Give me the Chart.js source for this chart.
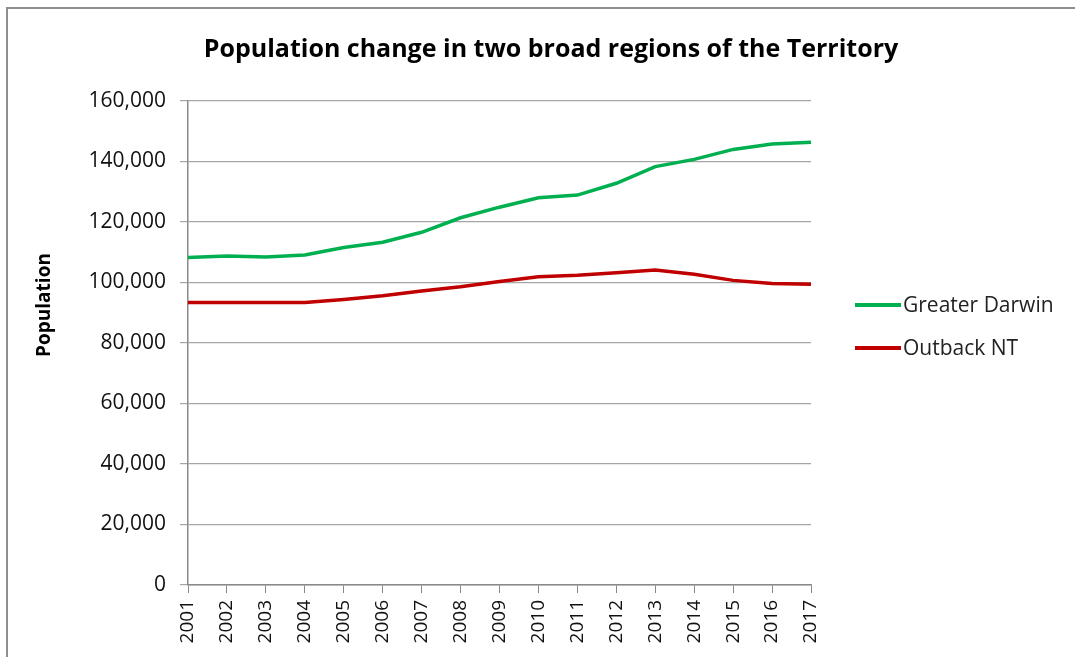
<!DOCTYPE html>
<html>
<head>
<meta charset="utf-8">
<script src="https://cdn.jsdelivr.net/npm/chart.js@4"></script>
<style>
    html, body { margin: 0; padding: 0; background: #fff; }
    #wrap { position: relative; width: 1075px; height: 657px; }
    #legend { position: absolute; left: 855px; top: 289px; font: 21px "Open Sans", sans-serif; color: #222; }
    .item { position: relative; height: 43px; }
    .swatch { position: absolute; left: 0; top: 14px; width: 46px; height: 4px; }
    .label { position: absolute; left: 48px; top: 0; white-space: nowrap; line-height: 30px; }
</style>
</head>
<body>
<div id="wrap">
    <canvas id="popChart" width="1075" height="657"></canvas>
    <div id="legend"></div>
</div>
<script>
const years = ['2001', '2002', '2003', '2004', '2005', '2006', '2007', '2008', '2009',
    '2010', '2011', '2012', '2013', '2014', '2015', '2016', '2017'];
const greaterDarwin = [108300, 108800, 108400, 109100, 111600, 113300, 116600, 121400, 124900,
    128000, 128900, 132800, 138300, 140700, 144000, 145800, 146400];
const outbackNT = [93400, 93400, 93400, 93400, 94400, 95600, 97200, 98600, 100300,
    101900, 102400, 103200, 104100, 102700, 100700, 99700, 99400];
const seriesNames = ['Greater Darwin', 'Outback NT'];
const seriesColors = ['#00b050', '#c00000'];

const fontFamily = '"Open Sans", sans-serif';

// white page with the grey frame of the chart box, plus the y axis caption
const framePlugin = {
    id: 'frame',
    beforeDraw(chart) {
        const c = chart.ctx;
        c.save();
        c.fillStyle = '#fff';
        c.fillRect(0, 0, chart.width, chart.height);
        c.strokeStyle = '#8e8e8e';
        c.lineWidth = 2;
        c.beginPath();
        c.moveTo(7, chart.height);
        c.lineTo(7, 8);
        c.lineTo(chart.width, 8);
        c.stroke();
        c.restore();
    },
    afterDraw(chart) {
        const c = chart.ctx;
        c.save();
        c.translate(45, 305);
        c.rotate(-Math.PI / 2);
        c.fillStyle = '#000';
        c.font = 'bold 19px ' + fontFamily;
        c.textAlign = 'center';
        c.textBaseline = 'middle';
        c.fillText('Population', 0, 0);
        c.restore();
    }
};

const ctx = document.getElementById('popChart').getContext('2d');
const popChart = new Chart(ctx, {
    type: 'line',
    data: {
        labels: years,
        datasets: [
            {
                label: seriesNames[0],
                data: greaterDarwin,
                borderColor: seriesColors[0],
                backgroundColor: seriesColors[0],
                borderWidth: 3.5,
                pointRadius: 0,
                tension: 0
            },
            {
                label: seriesNames[1],
                data: outbackNT,
                borderColor: seriesColors[1],
                backgroundColor: seriesColors[1],
                borderWidth: 3.5,
                pointRadius: 0,
                tension: 0
            }
        ]
    },
    options: {
        responsive: false,
        animation: false,
        devicePixelRatio: 1,
        layout: { padding: { left: 27, right: 0, top: 0, bottom: 0 } },
        plugins: {
            legend: { display: false },
            tooltip: { enabled: false },
            title: {
                display: true,
                text: 'Population change in two broad regions of the Territory',
                color: '#000',
                font: { family: fontFamily, size: 25, weight: 'bold', lineHeight: 1.2 },
                padding: { top: 35, bottom: 36 }
            }
        },
        scales: {
            x: {
                offset: false,
                grid: { drawOnChartArea: false, drawTicks: true, tickLength: 8, color: '#8a8a8a' },
                border: { color: '#8a8a8a', width: 1.5 },
                ticks: {
                    color: '#111',
                    minRotation: 90,
                    maxRotation: 90,
                    padding: 7,
                    autoSkip: false,
                    font: { family: fontFamily, size: 19 }
                },
                afterFit(scale) { scale.height = 72; }
            },
            y: {
                min: 0,
                max: 160000,
                grid: { color: '#a6a6a6', tickLength: 8, lineWidth: 1.2 },
                border: { color: '#8a8a8a', width: 1.5 },
                ticks: {
                    stepSize: 20000,
                    color: '#111',
                    padding: 14,
                    font: { family: fontFamily, size: 21 },
                    callback: v => v.toLocaleString('en-US')
                },
                afterFit(scale) { scale.width = 161; }
            },
            // empty right-hand axis that keeps room for the legend
            yRoom: {
                position: 'right',
                display: true,
                grid: { display: false },
                border: { display: false },
                ticks: { display: false },
                afterFit(scale) { scale.width = 264; }
            }
        }
    },
    plugins: [framePlugin]
});

// legend built from the series names and colours
const legend = document.getElementById('legend');
seriesNames.forEach((name, i) => {
    const item = document.createElement('div');
    item.className = 'item';
    item.innerHTML = '<span class="swatch" style="background:' + seriesColors[i] + '"></span>' +
        '<span class="label">' + name + '</span>';
    legend.appendChild(item);
});
</script>
</body>
</html>
